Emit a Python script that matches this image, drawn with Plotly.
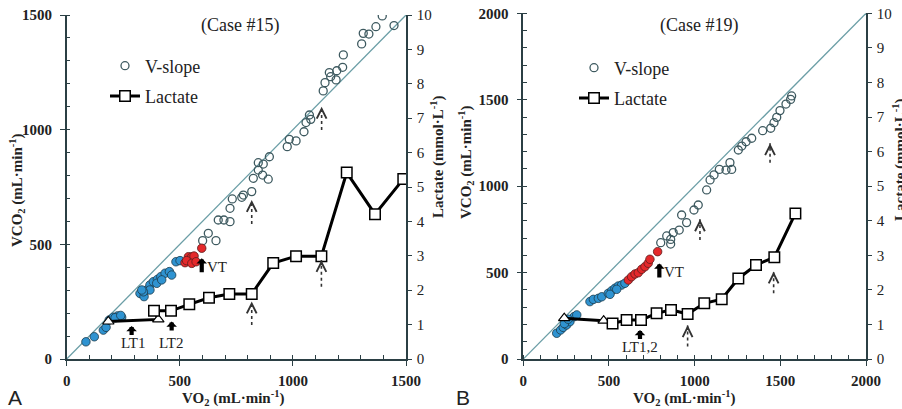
import plotly.graph_objects as go

# ---------------- Panel A (Case #15) ----------------
a_blue_vo2 = [85, 122, 162, 174, 188, 206, 225, 243, 214, 239, 324, 342, 354, 368, 383, 401, 416, 435, 454, 464, 398, 420, 368, 339, 332, 483, 501]
a_blue_vco2 = [75, 97, 126, 138, 170, 182, 188, 182, 180, 190, 286, 272, 301, 323, 337, 347, 359, 374, 381, 366, 330, 345, 301, 293, 301, 424, 429]
a_red_vo2 = [523, 538, 553, 563, 530, 553, 572, 597]
a_red_vco2 = [420, 446, 446, 449, 429, 417, 424, 483]
a_open_vo2 = [601, 626, 660, 670, 695, 722, 722, 732, 774, 781, 818, 825, 847, 847, 869, 866, 891, 896,
              975, 984, 1014, 1049, 1058, 1079, 1073, 1134, 1142, 1161, 1194, 1191, 1167, 1220, 1223,
              1304, 1311, 1336, 1367, 1395, 1447]
a_open_vco2 = [516, 548, 516, 606, 606, 599, 657, 698, 705, 715, 730, 788, 824, 856, 850, 802, 784, 882,
               926, 958, 951, 991, 1031, 1045, 1064, 1169, 1205, 1249, 1257, 1217, 1231, 1272, 1326,
               1374, 1420, 1417, 1449, 1496, 1454]
a_tri_vo2 = [184, 405]
a_tri_lac = [1.09, 1.15]
a_sq_vo2 = [386, 461, 542, 629, 719, 818, 913, 1014, 1126, 1238, 1363, 1488]
a_sq_lac = [1.40, 1.40, 1.59, 1.78, 1.89, 1.89, 2.79, 2.99, 2.99, 5.42, 4.21, 5.23]

# ---------------- Panel B (Case #19) ----------------
b_blue_vo2 = [195, 218, 233, 253, 272, 296, 312, 389, 409, 438, 458, 496, 516, 535, 554, 574, 593, 506, 545, 240, 262]
b_blue_vco2 = [149, 168, 183, 197, 216, 245, 255, 332, 345, 351, 360, 380, 395, 409, 422, 428, 438, 374, 403, 205, 230]
b_red_vo2 = [613, 632, 652, 671, 691, 710, 729, 739, 784]
b_red_vco2 = [457, 476, 492, 499, 519, 534, 554, 577, 621]
b_open_vo2 = [802, 837, 860, 860, 875, 910, 924, 953, 996, 1021, 1070, 1090, 1113, 1144, 1183, 1216, 1206,
              1255, 1275, 1300, 1333, 1397, 1444, 1463, 1479, 1498, 1533, 1560, 1566]
b_open_vco2 = [673, 712, 692, 665, 731, 746, 833, 789, 862, 891, 978, 1036, 1065, 1097, 1093, 1097, 1136,
               1209, 1232, 1257, 1277, 1321, 1335, 1367, 1398, 1437, 1475, 1502, 1522]
b_tri_vo2 = [239, 469]
b_tri_lac = [1.18, 1.11]
b_sq_vo2 = [521, 603, 687, 778, 862, 959, 1056, 1158, 1255, 1358, 1465, 1588]
b_sq_lac = [1.03, 1.13, 1.13, 1.32, 1.42, 1.30, 1.61, 1.73, 2.33, 2.72, 2.94, 4.21]

# threshold markers: (x, tip y, pixel length)
a_solid_lac = [(287, 0.96, 10), (464, 1.09, 10)]
a_solid_vco2 = [(597, 439, 15)]
b_solid_lac = [(681, 0.84, 10)]
b_solid_vco2 = [(794, 553, 15)]
# dotted arrows: (x, tip y, tail y)
a_dot_vco2 = [(818, 693, 589), (1127, 1100, 999)]
a_dot_lac = [(818, 1.67, 0.99), (1126, 2.88, 2.10)]
b_dot_vco2 = [(1031, 808, 688), (1440, 1248, 1136)]
b_dot_lac = [(959, 0.98, 0.36), (1461, 2.53, 1.90)]

SERIF = "Liberation Serif"
AX = "#2b3f44"
OPEN_C = "#3e5a60"
BLUE = "#2f93d1"
RED = "#e4292b"
DIAG = "#6b9ea6"

fig = go.Figure()


def add_panel(xa, ya, yl, legend, blue_x, blue_y, red_x, red_y, open_x, open_y,
              tri_x, tri_y, sq_x, sq_y):
    fig.add_trace(go.Scatter(x=open_x, y=open_y, xaxis=xa, yaxis=ya, mode="markers", name="V-slope",
                             marker=dict(symbol="circle-open", size=8, color=OPEN_C, line=dict(width=1.3)),
                             legend=legend, legendgroup=legend + "a"))
    fig.add_trace(go.Scatter(x=blue_x, y=blue_y, xaxis=xa, yaxis=ya, mode="markers", showlegend=False,
                             marker=dict(symbol="circle", size=8.5, color=BLUE, line=dict(width=0.8, color="#1d3b4a"))))
    fig.add_trace(go.Scatter(x=red_x, y=red_y, xaxis=xa, yaxis=ya, mode="markers", showlegend=False,
                             marker=dict(symbol="circle", size=8.5, color=RED, line=dict(width=0.8, color="#5a1e1e"))))
    fig.add_trace(go.Scatter(x=tri_x + sq_x, y=tri_y + sq_y, xaxis=xa, yaxis=yl, mode="lines", showlegend=False,
                             line=dict(color="black", width=3)))
    fig.add_trace(go.Scatter(x=tri_x, y=tri_y, xaxis=xa, yaxis=yl, mode="markers", showlegend=False,
                             marker=dict(symbol="triangle-up", size=10, color="white", line=dict(width=1.2, color="black"))))
    fig.add_trace(go.Scatter(x=sq_x, y=sq_y, xaxis=xa, yaxis=yl, mode="markers", showlegend=False,
                             marker=dict(symbol="square", size=10.5, color="white", line=dict(width=1.5, color="black"))))
    fig.add_trace(go.Scatter(x=[None], y=[None], xaxis=xa, yaxis=yl, mode="lines+markers", name="Lactate",
                             line=dict(color="black", width=3),
                             marker=dict(symbol="square", size=10.5, color="white", line=dict(width=1.5, color="black")),
                             legend=legend, legendgroup=legend + "b"))


add_panel("x", "y", "y2", "legend", a_blue_vo2, a_blue_vco2, a_red_vo2, a_red_vco2, a_open_vo2, a_open_vco2,
          a_tri_vo2, a_tri_lac, a_sq_vo2, a_sq_lac)
add_panel("x2", "y3", "y4", "legend2", b_blue_vo2, b_blue_vco2, b_red_vo2, b_red_vco2, b_open_vo2, b_open_vco2,
          b_tri_vo2, b_tri_lac, b_sq_vo2, b_sq_lac)

shapes = [
    dict(type="line", xref="x", yref="y", x0=0, y0=0, x1=1500, y1=1500, line=dict(color=DIAG, width=1.3), layer="below"),
    dict(type="line", xref="x2", yref="y3", x0=0, y0=0, x1=2000, y1=2000, line=dict(color=DIAG, width=1.3), layer="below"),
]
annotations = []


def solid(xr, yr, lst):
    for x, y, ln in lst:
        annotations.append(dict(x=x, y=y, xref=xr, yref=yr, ax=0, ay=ln, text=" ", showarrow=True,
                                font=dict(size=1), borderpad=0,
                                arrowhead=1, arrowwidth=4.2, arrowsize=0.42, arrowcolor="black"))


def dotted(xr, yr, lst):
    for x, y1, y0 in lst:
        shapes.append(dict(type="line", xref=xr, yref=yr, x0=x, x1=x, y0=y0, y1=y1,
                           line=dict(color="#333", width=1.6, dash="dot")))
        annotations.append(dict(x=x, y=y1, xref=xr, yref=yr, ax=0, ay=5, text=" ", showarrow=True,
                                font=dict(size=1), borderpad=0,
                                arrowhead=5, arrowwidth=1.2, arrowsize=1.6, arrowcolor="#333"))


solid("x", "y2", a_solid_lac)
solid("x", "y", a_solid_vco2)
solid("x2", "y4", b_solid_lac)
solid("x2", "y3", b_solid_vco2)
dotted("x", "y", a_dot_vco2)
dotted("x", "y2", a_dot_lac)
dotted("x2", "y3", b_dot_vco2)
dotted("x2", "y4", b_dot_lac)

lab = dict(family=SERIF, size=15, color="#222")
annotations += [
    dict(x=295, y=0.46, xref="x", yref="y2", text="LT1", showarrow=False, font=lab),
    dict(x=461, y=0.46, xref="x", yref="y2", text="LT2", showarrow=False, font=lab),
    dict(x=612, y=403, xref="x", yref="y", text="VT", showarrow=False, font=lab, xanchor="left"),
    dict(x=681, y=0.36, xref="x2", yref="y4", text="LT1,2", showarrow=False, font=lab),
    dict(x=812, y=505, xref="x2", yref="y3", text="VT", showarrow=False, font=lab, xanchor="left"),
]


def pa(px, py, text, size, angle=0, bold=False, family=SERIF, xanchor="center"):
    annotations.append(dict(x=px / 902, y=1 - py / 409, xref="paper", yref="paper", text=text,
                            showarrow=False, textangle=angle, xanchor=xanchor, yanchor="middle",
                            font=dict(family=family, size=size, color="#222",
                                      weight="bold" if bold else "normal")))


vco2_t = "VCO<sub>2</sub> (mL·min<sup>-1</sup>)"
vo2_t = "VO<sub>2</sub> (mL·min<sup>-1</sup>)"
lac_t = "Lactate (mmol·L<sup>-1</sup>)"
pa(17, 190, vco2_t, 15, -90, True)
pa(437, 157, lac_t, 15, -90, True)
pa(233, 398, vo2_t, 15, 0, True)
pa(240, 25, "(Case #15)", 18)
pa(466, 162, vco2_t, 15, -90, True)
pa(899, 160, lac_t, 15, -90, True)
pa(684, 398, vo2_t, 15, 0, True)
pa(699, 25, "(Case #19)", 18)
pa(15, 397, "A", 21, family="Liberation Sans")
pa(463, 397, "B", 21, family="Liberation Sans")

tickf = dict(family=SERIF, size=15, color="#222", weight="bold")


def xax(dom, rng, anchor):
    return dict(domain=dom, range=rng, anchor=anchor, showline=True, linecolor=AX, linewidth=1.5,
                showgrid=False, zeroline=False, ticks="outside", ticklen=5, tickcolor=AX, tickwidth=1.3,
                tickvals=list(range(0, rng[1] + 1, 500)), tickfont=tickf, ticklabelstandoff=2,
                automargin=False,
                minor=dict(dtick=100, ticks="inside", ticklen=4, tickcolor=AX, tickwidth=1), fixedrange=True)


def ylax(dom, rng, anchor):
    return dict(domain=dom, range=rng, anchor=anchor, showline=True, linecolor=AX, linewidth=1.5,
                showgrid=False, zeroline=False, ticks="outside", ticklen=5, tickcolor=AX, tickwidth=1.3,
                tickvals=list(range(0, rng[1] + 1, 500)), tickfont=tickf, ticklabelstandoff=5,
                automargin=False,
                minor=dict(dtick=100, ticks="inside", ticklen=4, tickcolor=AX, tickwidth=1), fixedrange=True)


def yrax(over, anchor):
    return dict(overlaying=over, side="right", anchor=anchor, range=[0, 10], showline=True, linecolor=AX,
                linewidth=1.5, showgrid=False, zeroline=False, ticks="outside", ticklen=4, tickcolor=AX,
                tickwidth=1.3, dtick=1, tickfont=dict(family=SERIF, size=15, color="#222"),
                ticklabelstandoff=2, automargin=False, fixedrange=True)


leg = dict(font=dict(family=SERIF, size=18, color="#222"), bgcolor="rgba(0,0,0,0)", tracegroupgap=4,
           traceorder="grouped", itemwidth=30, yanchor="middle", xanchor="left")

fig.update_layout(
    width=902, height=409, margin=dict(l=0, r=0, t=0, b=0, autoexpand=False),
    paper_bgcolor="white", plot_bgcolor="white",
    xaxis=xax([66.7 / 902, 406 / 902], [0, 1500], "y"),
    yaxis=ylax([1 - 359 / 409, 1 - 15 / 409], [0, 1500], "x"),
    yaxis2=yrax("y", "x"),
    xaxis2=xax([523.3 / 902, 866 / 902], [0, 2000], "y3"),
    yaxis3=ylax([1 - 359 / 409, 1 - 13.3 / 409], [0, 2000], "x2"),
    yaxis4=yrax("y3", "x2"),
    legend=dict(leg, x=105 / 902, y=1 - 81 / 409),
    legend2=dict(leg, x=574 / 902, y=1 - 83 / 409),
    shapes=shapes, annotations=annotations,
)

fig.write_html("out.html", config={"displayModeBar": False},
               post_script="document.body.style.margin='0';document.body.style.overflow='hidden';")
